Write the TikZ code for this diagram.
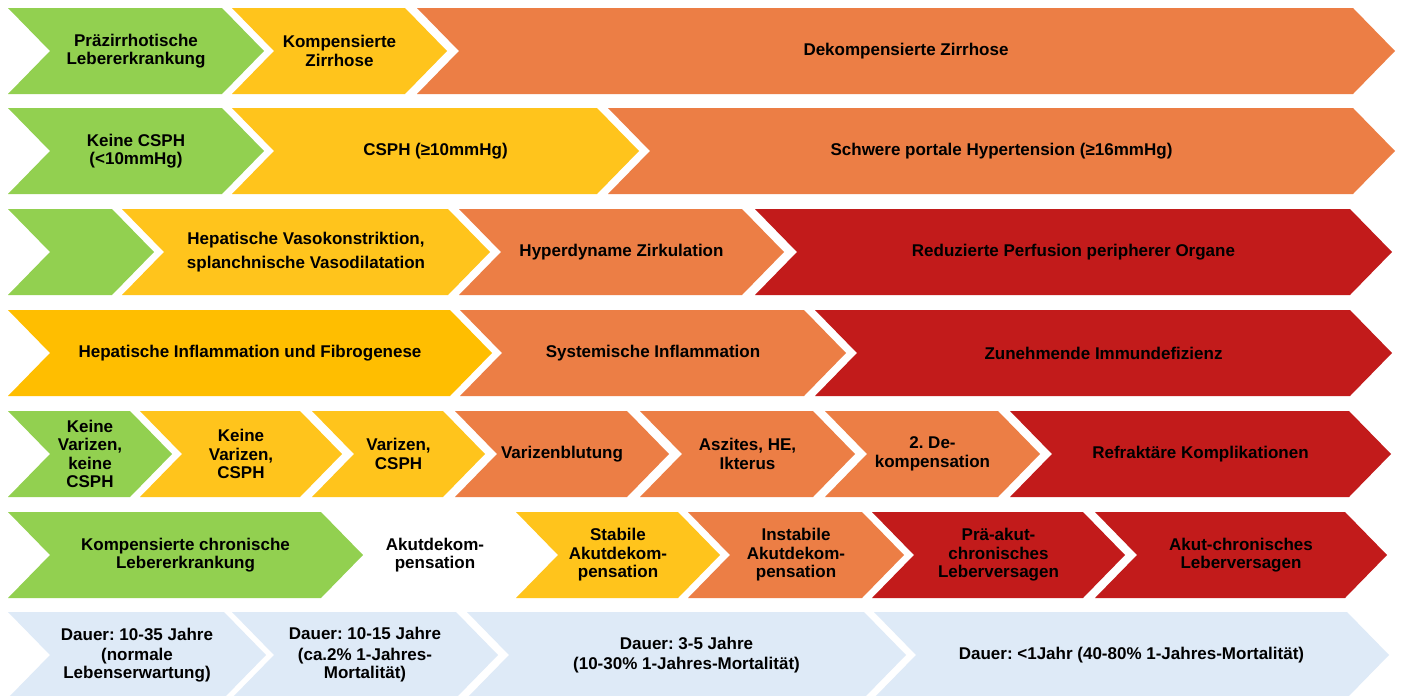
\documentclass[tikz,border=0pt]{standalone}
\usepackage{fontspec}
\setmainfont{Liberation Sans}
\definecolor{cgreen}{HTML}{92D050}
\definecolor{cyellow}{HTML}{FFC41C}
\definecolor{cyellowb}{HTML}{FFBE00}
\definecolor{corange}{HTML}{EC7E45}
\definecolor{cred}{HTML}{C21B1B}
\definecolor{cblue}{HTML}{DEEAF7}
% chevron: name, left x, right x (body end), top y, fill colour, label
\newcommand\chevbox[6]{%
  \fill[#5] (#2,#4) -- (#3,#4) -- ({#3+42},{#4+43}) -- (#3,{#4+86})
    -- (#2,{#4+86}) -- ({#2+42},{#4+43}) -- cycle;
  \node[lbl] (#1) at ({(#2+#3+42)/2},{#4+43}) {#6};
}
\begin{document}
\frenchspacing
\begin{tikzpicture}[x=1pt,y=-1pt,
  lbl/.style={align=center, inner sep=0pt, text=black,
    font=\fontsize{17}{18.5}\selectfont\bfseries\frenchspacing}]
\clip (0,0) rectangle (1401,696);
\fill[white] (0,0) rectangle (1401,696);

% stage of disease
\chevbox{s1}{8}{222}{8}{cgreen}{Präzirrhotische\\Lebererkrankung}
\chevbox{s2}{232}{405}{8}{cyellow}{Kompensierte\\Zirrhose}
\chevbox{s3}{417}{1353}{8}{corange}{Dekompensierte Zirrhose}

% portal pressure
\chevbox{p1}{8}{222}{108}{cgreen}{Keine CSPH\\(<10mmHg)}
\chevbox{p2}{232}{597}{108}{cyellow}{CSPH (≥10mmHg)}
\chevbox{p3}{608}{1353}{108}{corange}{Schwere portale Hypertension (≥16mmHg)}

% circulation
\chevbox{c1}{8}{112}{209}{cgreen}{}
\chevbox{c2}{122}{448}{209}{cyellow}{Hepatische Vasokonstriktion,\\[5pt]splanchnische Vasodilatation}
\chevbox{c3}{459}{742}{209}{corange}{Hyperdyname Zirkulation}
\chevbox{c4}{755}{1350}{209}{cred}{Reduzierte Perfusion peripherer Organe}

% inflammation
\chevbox{i1}{8}{450}{310}{cyellowb}{Hepatische Inflammation und Fibrogenese}
\chevbox{i2}{460}{804}{310}{corange}{Systemische Inflammation}
\chevbox{i3}{815}{1350}{310}{cred}{Zunehmende Immundefizienz}

% complications
\chevbox{k1}{8}{130}{411}{cgreen}{Keine\\Varizen,\\keine\\CSPH}
\chevbox{k2}{140}{300}{411}{cyellow}{Keine\\Varizen,\\CSPH}
\chevbox{k3}{312}{443}{411}{cyellow}{Varizen,\\CSPH}
\chevbox{k4}{455}{627}{411}{corange}{Varizenblutung}
\chevbox{k5}{640}{813}{411}{corange}{Aszites, HE,\\Ikterus}
\chevbox{k6}{825}{998}{411}{corange}{2. De-\\kompensation}
\chevbox{k7}{1010}{1349}{411}{cred}{Refraktäre Komplikationen}

% clinical course
\chevbox{a1}{8}{321}{512}{cgreen}{Kompensierte chronische\\Lebererkrankung}
\node[lbl] (akut) at (435,555) {Akutdekom-\\pensation};
\chevbox{a2}{516}{678}{512}{cyellow}{Stabile\\Akutdekom-\\pensation}
\chevbox{a3}{688}{862}{512}{corange}{Instabile\\Akutdekom-\\pensation}
\chevbox{a4}{872}{1083}{512}{cred}{Prä-akut-\\chronisches\\Leberversagen}
\chevbox{a5}{1095}{1345}{512}{cred}{Akut-chronisches\\Leberversagen}

% duration and mortality
\chevbox{d1}{8}{224}{612}{cblue}{Dauer: 10-35 Jahre\\[1.5pt](normale\\Lebenserwartung)}
\chevbox{d2}{232}{456}{612}{cblue}{Dauer: 10-15 Jahre\\[2pt](ca.2\% 1-Jahres-\\Mortalität)}
\chevbox{d3}{467}{864}{612}{cblue}{Dauer: 3-5 Jahre\\[2pt](10-30\% 1-Jahres-Mortalität)}
\chevbox{d4}{874}{1347}{612}{cblue}{Dauer: <1Jahr (40-80\% 1-Jahres-Mortalität)}
\end{tikzpicture}
\end{document}
